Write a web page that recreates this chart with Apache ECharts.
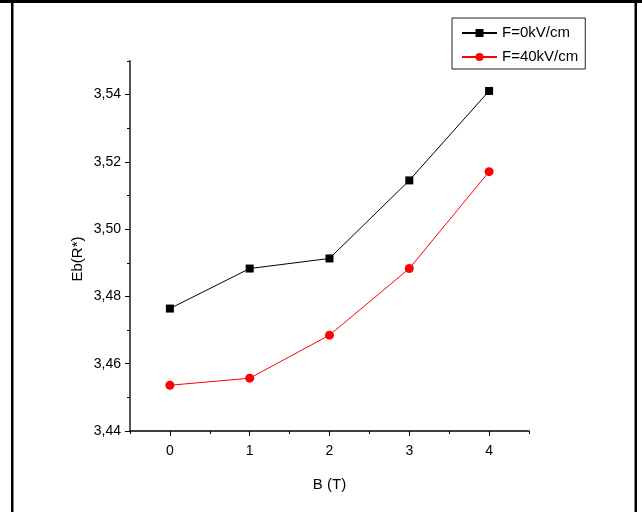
<!DOCTYPE html>
<html>
<head>
<meta charset="utf-8">
<script src="https://cdn.jsdelivr.net/npm/echarts@6/dist/echarts.min.js"></script>
<style>html,body{margin:0;padding:0;background:#fff}#c{width:642px;height:512px}</style>
</head>
<body>
<div id="c"></div>
<script>
const bValues = [0, 1, 2, 3, 4];
const seriesNames = ['F=0kV/cm', 'F=40kV/cm'];
const eb0 = [3.4764, 3.4883, 3.4913, 3.5145, 3.5411];
const eb40 = [3.4536, 3.4557, 3.4685, 3.4883, 3.5171];
const yTickLabels = [3.44, 3.46, 3.48, 3.50, 3.52, 3.54];
const xTickLabels = [0, 1, 2, 3, 4];

const FONT = 'Liberation Sans, Arial, sans-serif';
const chart = echarts.init(document.getElementById('c'), null, {renderer: 'canvas'});
const pair = (xs, ys) => xs.map((x, i) => [x, ys[i]]);

chart.setOption({
  animation: false,
  backgroundColor: '#fff',
  grid: {left: 130, right: 113, top: 61, bottom: 81},
  legend: {
    left: 452, top: 18,
    orient: 'vertical',
    data: seriesNames,
    borderColor: '#222', borderWidth: 1,
    padding: [7, 7, 4, 9],
    itemWidth: 35, itemHeight: 10, itemGap: 8,
    textStyle: {fontFamily: FONT, fontSize: 15, color: '#000', lineHeight: 16}
  },
  xAxis: [{
    type: 'value', min: -0.5, max: 4.5, interval: 0.5,
    name: 'B (T)', nameLocation: 'middle', nameGap: 46,
    nameTextStyle: {fontFamily: FONT, fontSize: 15, color: '#000'},
    axisLine: {show: true, onZero: false, lineStyle: {color: '#000', width: 1.5}},
    axisTick: {show: true, length: 3, lineStyle: {color: '#000', width: 1}},
    axisLabel: {show: false},
    splitLine: {show: false}
  }, {
    type: 'value', min: -0.5, max: 4.5, position: 'bottom',
    axisLine: {show: false, onZero: false},
    axisTick: {show: true, length: 5, customValues: xTickLabels, lineStyle: {color: '#000', width: 1}},
    axisLabel: {show: true, customValues: xTickLabels, margin: 13, fontFamily: FONT, fontSize: 14, color: '#000'},
    splitLine: {show: false}
  }],
  yAxis: [{
    type: 'value', min: 3.44, max: 3.55, interval: 0.01,
    name: 'Eb(R*)', nameLocation: 'middle', nameGap: 45, nameRotate: 90,
    nameTextStyle: {fontFamily: FONT, fontSize: 15, color: '#000', padding: [0, 26, 0, 0]},
    axisLine: {show: true, onZero: false, lineStyle: {color: '#555', width: 2}},
    axisTick: {show: true, length: 3, lineStyle: {color: '#000', width: 1}},
    axisLabel: {show: false},
    splitLine: {show: false}
  }, {
    type: 'value', min: 3.44, max: 3.55, position: 'left',
    axisLine: {show: false, onZero: false},
    axisTick: {show: true, length: 5, customValues: yTickLabels, lineStyle: {color: '#000', width: 1}},
    axisLabel: {show: true, customValues: yTickLabels, margin: 9, fontFamily: FONT, fontSize: 14, color: '#000',
      formatter: v => v.toFixed(2).replace('.', ',')},
    splitLine: {show: false}
  }],
  series: [{
    name: seriesNames[0], type: 'line', xAxisIndex: 0, yAxisIndex: 0,
    data: pair(bValues, eb0),
    symbol: 'rect', symbolSize: 8,
    lineStyle: {color: '#000', width: 1},
    itemStyle: {color: '#000'}
  }, {
    name: seriesNames[1], type: 'line', xAxisIndex: 0, yAxisIndex: 0,
    data: pair(bValues, eb40),
    symbol: 'circle', symbolSize: 9,
    lineStyle: {color: '#ff0000', width: 1},
    itemStyle: {color: '#ff0000'}
  }],
  graphic: [
    {type: 'rect', shape: {x: 0, y: 0, width: 642, height: 3}, style: {fill: '#000'}},
    {type: 'rect', shape: {x: 11, y: 0, width: 2.5, height: 512}, style: {fill: '#000'}},
    {type: 'rect', shape: {x: 634.5, y: 0, width: 2.5, height: 512}, style: {fill: '#000'}}
  ]
});
</script>
</body>
</html>
